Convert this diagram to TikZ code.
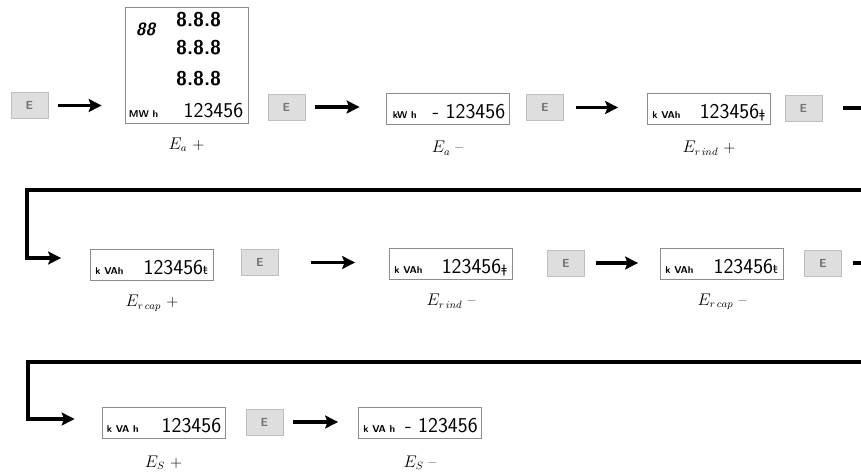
\documentclass[tikz,border=0pt]{standalone}
\usepackage{fontspec}
\newfontfamily\lcdsym{DejaVu Sans}
\usetikzlibrary{positioning,calc,arrows.meta}

\newcommand{\indsym}{{\lcdsym\fontsize{10}{10}\selectfont ǂ}}
\newcommand{\capsym}{{\lcdsym\fontsize{10}{10}\selectfont ŧ}}

\tikzset{
  ebutton/.style={draw=black!25, fill=black!13, line width=0.6pt, minimum width=1.11cm,
    minimum height=0.78cm, inner sep=0pt, text=black!55,
    font=\sffamily\bfseries\fontsize{10}{10}\selectfont},
  disp/.style={draw=black!45, line width=0.7pt, fill=white, minimum width=3.69cm,
    minimum height=0.93cm, inner sep=0pt},
  bigdisp/.style={disp, minimum height=3.48cm},
  unit/.style={inner sep=0pt, font=\sffamily\bfseries\fontsize{8.5}{8.5}\selectfont},
  digits/.style={inner sep=0pt, font=\sffamily\fontsize{18}{18}\selectfont},
  seg/.style={inner sep=0pt, font=\sffamily\bfseries\fontsize{17}{17}\selectfont},
  lbl/.style={inner sep=0pt, font=\fontsize{13.5}{15}\selectfont},
  arr/.style={line width=2.6pt, -{Stealth[length=11pt,width=11pt,inset=2pt]}}
}

\begin{document}
\begin{tikzpicture}[x=0.03cm,y=-0.03cm]
    \useasboundingbox (0,0) rectangle (861,475);
    \clip (0,0) rectangle (861,475);
    % first row
    \node[ebutton] (e1) at (29.5,105.5) {E};
    \node[bigdisp] (d1) at (186.5,65) {};
    \node[seg, font=\sffamily\bfseries\itshape\fontsize{15}{15}\selectfont] (dd) at ($(d1.north west)+(21,23)$) {88};
    \foreach \dy/\nm in {13/s1,41.5/s2,72/s3}
        \node[seg] (\nm) at ($(d1.north west)+(74,\dy)$) {8.8.8};
    \node[unit, anchor=base west] (u1) at ($(d1.south west)+(4,-6)$) {MW h};
    \node[digits, anchor=base east] (n1) at ($(d1.south east)+(-5,-6)$) {123456};
    \node[ebutton] (e2) at (286.5,107) {E};
    \node[disp] (d2) at (447.5,108.5) {};
    \node[unit, anchor=base west] (u2) at ($(d2.south west)+(7,-6)$) {kW h};
    \node[digits, anchor=base east] (n2) at ($(d2.south east)+(-4,-6)$) {- 123456};
    \node[ebutton] (e3) at (545,107.5) {E};
    \node[disp] (d3) at (709,108.5) {};
    \node[unit, anchor=base west] (u3) at ($(d3.south west)+(5,-6)$) {k VAh};
    \node[digits, anchor=base east] (n3) at ($(d3.south east)+(-6,-6)$) {123456\indsym};
    \node[ebutton] (e4) at (803.5,108) {E};
    % second row
    \node[disp] (d4) at (152,265) {};
    \node[unit, anchor=base west] (u4) at ($(d4.south west)+(5,-6)$) {k VAh};
    \node[digits, anchor=base east] (n4) at ($(d4.south east)+(-6,-6)$) {123456\capsym};
    \node[ebutton] (e5) at (260,262.5) {E};
    \node[disp] (d5) at (451,264) {};
    \node[unit, anchor=base west] (u5) at ($(d5.south west)+(5,-6)$) {k VAh};
    \node[digits, anchor=base east] (n5) at ($(d5.south east)+(-6,-6)$) {123456\indsym};
    \node[ebutton] (e6) at (566,263) {E};
    \node[disp] (d6) at (722,263.5) {};
    \node[unit, anchor=base west] (u6) at ($(d6.south west)+(5,-6)$) {k VAh};
    \node[digits, anchor=base east] (n6) at ($(d6.south east)+(-6,-6)$) {123456\capsym};
    \node[ebutton] (e7) at (823,263) {E};
    % third row
    \node[disp] (d7) at (163.5,423) {};
    \node[unit, anchor=base west] (u7) at ($(d7.south west)+(5,-6)$) {k VA h};
    \node[digits, anchor=base east] (n7) at ($(d7.south east)+(-4,-6)$) {123456};
    \node[ebutton] (e8) at (264.5,422) {E};
    \node[disp] (d8) at (420,423) {};
    \node[unit, anchor=base west] (u8) at ($(d8.south west)+(5,-6)$) {k VA h};
    \node[digits, anchor=base east] (n8) at ($(d8.south east)+(-4,-6)$) {- 123456};
    % labels
    \node[lbl, below=12pt of d1] (l1) {$E_a$ +};
    \node[lbl, below=14pt of d2] (l2) {$E_a$ --};
    \node[lbl, below=14pt of d3] (l3) {$E_{r\,ind}$ +};
    \node[lbl, below=12pt of d4] (l4) {$E_{r\,cap}$ +};
    \node[lbl, below=12pt of d5] (l5) {$E_{r\,ind}$ --};
    \node[lbl, below=12pt of d6] (l6) {$E_{r\,cap}$ --};
    \node[lbl, below=14pt of d7] (l7) {$E_S$ +};
    \node[lbl, below=14pt of d8] (l8) {$E_S$ --};
    % arrows
    \draw[arr] ($(e1.east)+(10,0)$) -- ($(e1.east -| d1.west)+(-23,0)$);
    \draw[arr] ($(e2.east)+(10,0)$) -- ($(e2.east -| d2.west)+(-26,0)$);
    \draw[arr] ($(e3.east)+(12,0)$) -- ($(e3.east -| d3.west)+(-29,0)$);
    \draw[arr] ($(e5.east)+(32,0)$) -- ($(e5.east -| d5.west)+(-34,0)$);
    \draw[arr] ($(e6.east)+(11,0)$) -- ($(e6.east -| d6.west)+(-22,0)$);
    \draw[arr] ($(e8.east)+(10,0)$) -- ($(e8.east -| d8.west)+(-20,0)$);
    % return lines
    \coordinate (c1) at (890,190);
    \coordinate (c2) at (27,190);
    \coordinate (c3) at (890,362);
    \coordinate (c4) at (28,362);
    \draw[arr] ($(e4.east)+(21,0)$) -| (c1) -- (c2) |- ($(d4.west)+(-29,-7)$);
    \draw[arr] ($(e7.east)+(11,0)$) -| (c3) -- (c4) |- ($(d7.west)+(-27,-4)$);
\end{tikzpicture}
\end{document}
